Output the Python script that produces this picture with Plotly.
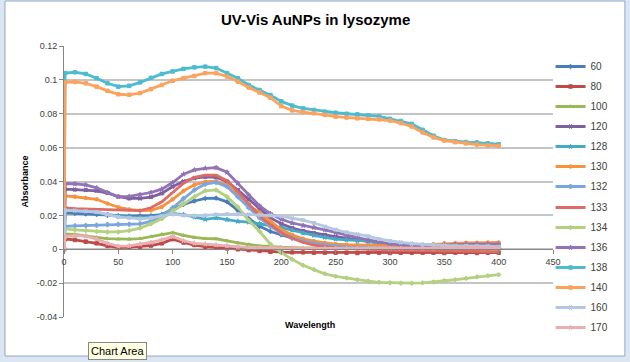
import plotly.graph_objects as go

# ---- data ----
wavelength = [0, 1] + list(range(10, 401, 10))

series_names = ["60", "80", "100", "120", "128", "130", "132", "133", "134", "136", "138", "140", "160", "170"]

s60 = [0, 0.0215, 0.0212, 0.0208, 0.0205, 0.020, 0.0197, 0.0196, 0.0197, 0.0198, 0.0205, 0.0235, 0.0265, 0.0285, 0.030, 0.0302, 0.028, 0.023, 0.018, 0.0135, 0.0105, 0.0085, 0.0065, 0.005, 0.0035, 0.0025, 0.0018, 0.0012, 0.0008, 0.0005, 0.0003, 0.0002, 0.0, 0.0, -0.0002, 0.0, 0.0, 0.0005, 0.0005, 0.0008, 0.0005, 0.0005]
s80 = [0, 0.006, 0.0055, 0.0045, 0.0035, 0.002, 0.001, 0.0012, 0.0015, 0.0022, 0.0035, 0.006, 0.004, 0.0025, 0.0015, 0.001, 0.0005, 0.0, -0.0005, -0.001, -0.0015, -0.0017, -0.0018, -0.0018, -0.002, -0.002, -0.002, -0.002, -0.0022, -0.002, -0.002, -0.0022, -0.002, -0.002, -0.002, -0.002, -0.0022, -0.002, -0.002, -0.0022, -0.002, -0.002]
s100 = [0, 0.009, 0.0088, 0.0078, 0.007, 0.0063, 0.006, 0.006, 0.0063, 0.0075, 0.0088, 0.0098, 0.0082, 0.007, 0.0063, 0.0062, 0.005, 0.0038, 0.0028, 0.002, 0.0015, 0.0012, 0.001, 0.0008, 0.0006, 0.0005, 0.0004, 0.0003, 0.0002, 0.0002, 0.0, 0.0, -0.0002, -0.0002, 0.0, 0.0, 0.0, 0.0002, 0.0, 0.0, 0.0, 0.0]
s120 = [0, 0.0355, 0.0352, 0.035, 0.0345, 0.0332, 0.031, 0.030, 0.030, 0.0308, 0.033, 0.037, 0.040, 0.042, 0.0428, 0.0425, 0.040, 0.035, 0.0295, 0.0235, 0.0185, 0.015, 0.0125, 0.0108, 0.0095, 0.0085, 0.0075, 0.0065, 0.0055, 0.0045, 0.0035, 0.0028, 0.0022, 0.0018, 0.0015, 0.0015, 0.0018, 0.002, 0.0022, 0.0025, 0.0025, 0.0025]
s128 = [0, 0.0235, 0.0232, 0.0225, 0.0218, 0.0205, 0.0197, 0.019, 0.0187, 0.019, 0.020, 0.0212, 0.0205, 0.019, 0.0177, 0.0185, 0.0175, 0.0165, 0.016, 0.0152, 0.014, 0.0128, 0.0113, 0.0095, 0.0082, 0.007, 0.006, 0.0055, 0.005, 0.0048, 0.0035, 0.0025, 0.0018, 0.0012, 0.001, 0.001, 0.001, 0.0012, 0.0012, 0.001, 0.001, 0.001]
s130 = [0, 0.0315, 0.031, 0.0303, 0.0295, 0.027, 0.0248, 0.0235, 0.0228, 0.023, 0.025, 0.0295, 0.0345, 0.038, 0.0398, 0.0402, 0.038, 0.032, 0.026, 0.0217, 0.0165, 0.0115, 0.0085, 0.0062, 0.0048, 0.0038, 0.003, 0.0027, 0.0025, 0.0022, 0.002, 0.002, 0.002, 0.0022, 0.0025, 0.003, 0.0035, 0.0037, 0.0038, 0.0038, 0.004, 0.004]
s132 = [0, 0.0135, 0.0138, 0.014, 0.0142, 0.0145, 0.0147, 0.0148, 0.015, 0.0165, 0.0195, 0.0245, 0.030, 0.035, 0.0385, 0.0395, 0.037, 0.031, 0.0245, 0.0185, 0.0135, 0.0095, 0.0068, 0.0048, 0.0035, 0.0025, 0.0018, 0.0012, 0.001, 0.0008, 0.0006, 0.0005, 0.0005, 0.0005, 0.0005, 0.0005, 0.0005, 0.0005, 0.0005, 0.0005, 0.0005, 0.0005]
s133 = [0, 0.0245, 0.024, 0.0238, 0.0235, 0.0235, 0.0233, 0.0228, 0.0228, 0.0245, 0.028, 0.0335, 0.039, 0.0425, 0.0437, 0.0437, 0.0405, 0.034, 0.027, 0.0197, 0.0145, 0.0098, 0.0065, 0.004, 0.0025, 0.0015, 0.0008, 0.0005, 0.0002, 0.0, 0.0, -0.0005, -0.0005, -0.0008, -0.0008, -0.001, -0.001, -0.001, -0.0012, -0.0012, -0.0015, -0.0015]
s134 = [0, 0.012, 0.0115, 0.011, 0.0105, 0.0102, 0.0102, 0.011, 0.0125, 0.015, 0.018, 0.0225, 0.027, 0.031, 0.0345, 0.035, 0.031, 0.025, 0.017, 0.0105, 0.003, -0.002, -0.006, -0.0095, -0.012, -0.0145, -0.016, -0.017, -0.018, -0.0188, -0.0195, -0.0198, -0.020, -0.020, -0.0198, -0.0193, -0.0185, -0.018, -0.0172, -0.0163, -0.0157, -0.015]
s136 = [0, 0.0388, 0.0386, 0.038, 0.0362, 0.0335, 0.031, 0.0312, 0.0322, 0.0335, 0.0355, 0.0394, 0.0443, 0.0468, 0.0478, 0.0482, 0.0455, 0.039, 0.032, 0.0256, 0.021, 0.0177, 0.0155, 0.014, 0.0128, 0.0115, 0.0098, 0.0082, 0.0068, 0.0055, 0.0042, 0.0032, 0.0025, 0.0022, 0.002, 0.0022, 0.0025, 0.0028, 0.003, 0.003, 0.003, 0.003]
s138 = [0, 0.104, 0.1045, 0.1035, 0.101, 0.098, 0.096, 0.0965, 0.0985, 0.1012, 0.1035, 0.105, 0.1065, 0.1074, 0.1078, 0.107, 0.104, 0.101, 0.097, 0.094, 0.091, 0.0873, 0.0848, 0.0832, 0.0822, 0.0812, 0.0806, 0.080, 0.0796, 0.079, 0.0784, 0.077, 0.0757, 0.074, 0.0705, 0.067, 0.0645, 0.0637, 0.0633, 0.063, 0.0625, 0.062]
s140 = [0, 0.0985, 0.0988, 0.098, 0.096, 0.0935, 0.0915, 0.0912, 0.0922, 0.0945, 0.097, 0.0995, 0.101, 0.1023, 0.104, 0.104, 0.102, 0.099, 0.0955, 0.0925, 0.0895, 0.0845, 0.082, 0.081, 0.0803, 0.0793, 0.0783, 0.0778, 0.0773, 0.077, 0.0767, 0.076, 0.0745, 0.0725, 0.069, 0.066, 0.0642, 0.0632, 0.0625, 0.0618, 0.0613, 0.061]
s160 = [0, 0.023, 0.0228, 0.0225, 0.022, 0.0205, 0.019, 0.0185, 0.018, 0.0185, 0.0195, 0.0207, 0.020, 0.0198, 0.020, 0.0205, 0.0207, 0.0207, 0.0205, 0.0203, 0.020, 0.0195, 0.0183, 0.0172, 0.0155, 0.0133, 0.0115, 0.010, 0.0088, 0.0077, 0.006, 0.0048, 0.004, 0.0033, 0.0028, 0.0025, 0.0022, 0.002, 0.002, 0.0018, 0.0018, 0.0015]
s170 = [0, 0.0075, 0.008, 0.0078, 0.006, 0.0035, 0.0018, 0.002, 0.003, 0.004, 0.0055, 0.0075, 0.005, 0.0035, 0.003, 0.0025, 0.002, 0.0015, 0.001, 0.001, 0.0008, 0.0006, 0.0005, 0.0005, 0.0005, 0.0005, 0.0005, 0.0005, 0.0005, 0.0005, 0.0005, 0.0005, 0.0005, 0.0005, 0.0005, 0.0005, 0.0008, 0.0008, 0.001, 0.001, 0.001, 0.001]

series_values = [s60, s80, s100, s120, s128, s130, s132, s133, s134, s136, s138, s140, s160, s170]

x_ticks = [0, 50, 100, 150, 200, 250, 300, 350, 400, 450]
y_ticks = [-0.04, -0.02, 0, 0.02, 0.04, 0.06, 0.08, 0.1, 0.12]
y_tick_labels = ["-0.04", "-0.02", "0", "0.02", "0.04", "0.06", "0.08", "0.1", "0.12"]

# ---- styles ----
colors = ["#4A7EBB", "#BE4B48", "#98B954", "#7D60A0", "#46AAC5", "#F69240", "#7BA7DC",
          "#DD6B66", "#B5D080", "#9273B8", "#4DBBD0", "#FBA35E", "#B4C8E2", "#E8B0B0"]
symbols = ["diamond", "square", "triangle-up", "x", "star", "circle", "cross",
           "line-ew", "diamond", "star", "square", "square", "x", "star"]

FONT = "Liberation Sans, Arial, sans-serif"

fig = go.Figure()
for i, (name, vals, c, sym) in enumerate(zip(series_names, series_values, colors, symbols)):
    assert len(vals) == len(wavelength), name
    fig.add_trace(go.Scatter(
        x=wavelength, y=vals, name=name, legendgroup=name,
        legend="legend" if i < 7 else "legend2",
        mode="lines+markers",
        line=dict(color=c, width=2.8),
        marker=dict(color=c, size=3.5, symbol=sym, line=dict(color=c, width=1)),
    ))

axis_font = dict(family=FONT, size=9, color="#404040")
legend_common = dict(x=0.995, xanchor="left", yref="container", yanchor="top",
                     bgcolor="rgba(0,0,0,0)", tracegroupgap=1,
                     font=dict(family=FONT, size=10, color="#404040"))

fig.update_layout(
    width=630, height=362,
    margin=dict(l=64, r=77, t=46, b=45, autoexpand=False),
    paper_bgcolor="#DCE6F2",
    plot_bgcolor="rgba(0,0,0,0)",
    font=dict(family=FONT, color="#262626"),
    title=dict(text="<b>UV-Vis AuNPs in lysozyme</b>", x=0.501, xanchor="center",
               y=0.945, yanchor="middle",
               font=dict(family=FONT, size=15, color="#000000")),
    xaxis=dict(range=[0, 450], tickvals=x_ticks, showgrid=False, zeroline=False,
               anchor="free", position=0.25, showline=True, linecolor="#868686", linewidth=1,
               ticks="outside", ticklen=4, tickcolor="#868686", tickfont=axis_font,
               automargin=False),
    yaxis=dict(range=[-0.04, 0.12], tickvals=y_ticks, ticktext=y_tick_labels,
               showgrid=True, gridcolor="#C4C4C4", gridwidth=1.8, zeroline=False,
               showline=True, linecolor="#868686", linewidth=1,
               ticks="outside", ticklen=4, tickcolor="#868686", tickfont=axis_font,
               automargin=False,
               title=dict(text="<b>Absorbance</b>", standoff=6,
                          font=dict(family=FONT, size=9, color="#000000"))),
    legend=dict(legend_common, y=1 - 52 / 362),
    legend2=dict(legend_common, y=1 - 193 / 362),
    shapes=[dict(type="rect", xref="paper", yref="paper", layer="below",
                 x0=-0.1207, x1=1.147, y0=-0.144, y1=1.166,
                 fillcolor="#FFFFFF", line=dict(color="#8FA8C8", width=1))],
    annotations=[
        dict(text="<b>Wavelength</b>", xref="paper", yref="paper", x=0.503, y=-0.03,
             xanchor="center", yanchor="middle", showarrow=False,
             font=dict(family=FONT, size=9, color="#000000")),
        dict(text="Chart Area", xref="paper", yref="paper", x=0.11, y=-0.125,
             xanchor="center", yanchor="middle", showarrow=False, bgcolor="#FFFFE1",
             bordercolor="#888888", borderwidth=1, borderpad=2,
             font=dict(family=FONT, size=11, color="#000000")),
    ],
)

fig.write_html("out.html", config={"displayModeBar": False},
               post_script="document.body.style.margin='0';document.body.style.padding='0';")
